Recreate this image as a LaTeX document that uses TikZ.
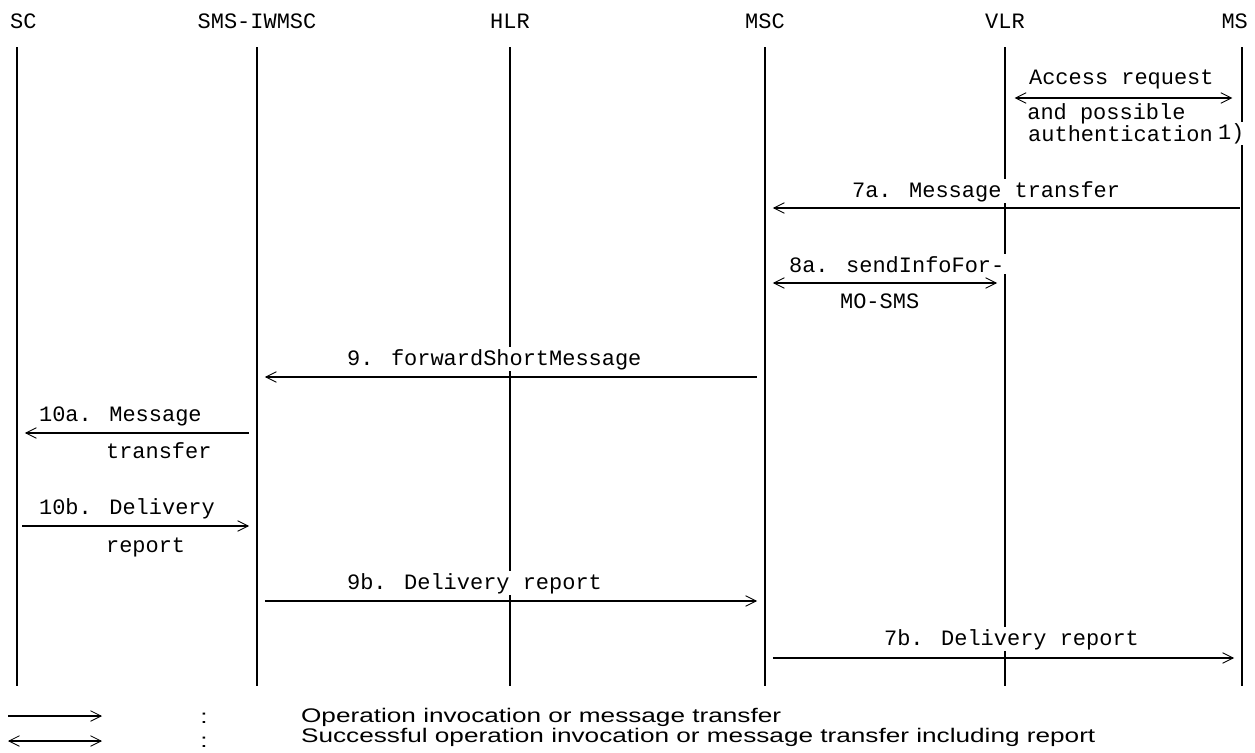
\documentclass[tikz,border=0pt]{standalone}
\usepackage{fontspec}
\usepackage{tikz}
\usetikzlibrary{arrows.meta}
\newfontfamily\msgfont{Liberation Mono}
\newfontfamily\legfont[FakeStretch=1.33]{Liberation Sans}

\begin{document}
\begin{tikzpicture}[x=0.02cm, y=-0.02cm,
        >={Straight Barb[length=6pt,width=6pt,line width=0.5pt]},
        every node/.style={inner sep=1pt},
        txt/.style={font=\msgfont\fontsize{12.5}{14}\selectfont, anchor=base west},
        lbl/.style={txt, fill=white},
        legtxt/.style={font=\legfont\fontsize{11.2}{13}\selectfont, anchor=base west},
        life/.style={line width=0.6pt},
        msg/.style={line width=0.7pt, shorten <=4.5pt, shorten >=4.5pt},
        leg/.style={line width=0.6pt}]
    \useasboundingbox (0,0) rectangle (1255,752);
    \node[txt] (SC) at (8,28) {SC};
    \node[txt, anchor=base] (IW) at (257,28) {SMS-IWMSC};
    \node[txt, anchor=base] (HLR) at (510,28) {HLR};
    \node[txt, anchor=base] (MSC) at (765,28) {MSC};
    \node[txt, anchor=base] (VLR) at (1005,28) {VLR};
    \node[txt, anchor=base east] (MS) at (1250,28) {MS};
    \foreach \n/\x in {sc/17, iw/257, hlr/510, msc/765, vlr/1005, ms/1242} {
        \coordinate (\n) at (\x,47);
        \coordinate (\n end) at (\x,686);
        \draw[life] (\n) -- (\n end);
    }
    \foreach \m/\y in {1/98, 2/208, 3/283, 4/377, 5/433, 6/526, 7/601, 8/658} {
        \coordinate (m\m) at (0,\y);
    }
    \node[lbl] (A) at (1027,84) {Access request};
    \node[lbl, inner sep=0.5pt] (A3) at (1027,141) {authentication\kern3pt\raisebox{1pt}{1)}};
    \node[txt, inner sep=0pt] (A2) at (1027,119) {and possible};
    \node[lbl] (B) at (850,197) {7a. Message transfer};
    \node[lbl] (C) at (787,272) {8a. sendInfoFor-};
    \node[lbl] (C2) at (838,308) {MO-SMS};
    \node[lbl] (D) at (345,365) {9. forwardShortMessage};
    \node[lbl] (E) at (37,421) {10a. Message};
    \node[lbl] (E2) at (104,458) {transfer};
    \node[lbl] (F) at (37,514) {10b. Delivery};
    \node[lbl] (F2) at (104,552) {report};
    \node[lbl] (G) at (345,589) {9b. Delivery report};
    \node[lbl] (H) at (882,645) {7b. Delivery report};
    \draw[<->, msg, shorten <=5.5pt, shorten >=5.5pt] (vlr |- m1) -- (ms |- m1);
    \draw[<-, msg, shorten >=1pt] (msc |- m2) -- (ms |- m2);
    \draw[<->, msg] (msc |- m3) -- (vlr |- m3);
    \draw[<-, msg] (iw |- m4) -- (msc |- m4);
    \draw[<-, msg] (sc |- m5) -- (iw |- m5);
    \draw[->, msg, shorten <=3pt] (sc |- m6) -- (iw |- m6);
    \draw[->, msg] (iw |- m7) -- (msc |- m7);
    \draw[->, msg] (msc |- m8) -- (ms |- m8);
    \coordinate (K1) at (8,716);
    \coordinate (K2) at (102,716);
    \coordinate (K3) at (8,741);
    \coordinate (K4) at (102,741);
    \draw[->, leg] (K1) -- (K2);
    \draw[<->, leg] (K3) -- (K4);
    \node[legtxt, anchor=base] (P1) at (204,723) {:};
    \node[legtxt, anchor=base] (P2) at (204,747) {:};
    \node[legtxt] (T1) at (299,722) {Operation invocation or message transfer};
    \node[legtxt] (T2) at (299,742) {Successful operation invocation or message transfer including report};
\end{tikzpicture}
\end{document}
